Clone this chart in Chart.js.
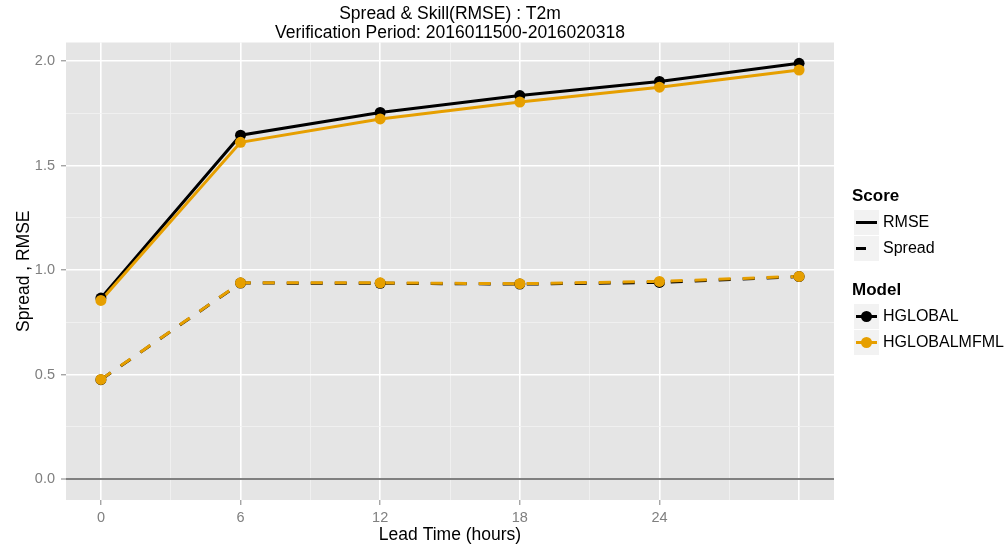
<!DOCTYPE html>
<html lang="en">
  <head>
    <meta charset="UTF-8" />
    <title>Spread & Skill(RMSE) : T2m</title>
    <script src="https://cdn.jsdelivr.net/npm/chart.js@4/dist/chart.umd.min.js"></script>
    <style>
      body { margin: 0; background: #fff; font-family: 'Liberation Sans', Arial, sans-serif; }
      #wrap { position: relative; width: 1006px; height: 549px; }
      .lg { position: absolute; white-space: nowrap; line-height: 20px; color: #000; }
      .lg.title { font-weight: bold; font-size: 17px; }
      .lg.item { font-size: 16px; }
      .key { position: absolute; width: 25px; height: 25px; background: #f2f2f2; }
    </style>
  </head>
  <body>
    <div id="wrap">
      <canvas id="myChart" width="1006" height="549"></canvas>
      <div id="legend"></div>
    </div>

    <script>
      // values
      const leadTimes = [0, 6, 12, 18, 24, 30];
      const rmseHGLOBAL = [0.866, 1.645, 1.754, 1.835, 1.902, 1.989];
      const rmseMFML = [0.855, 1.611, 1.723, 1.804, 1.875, 1.957];
      const spreadHGLOBAL = [0.476, 0.938, 0.937, 0.933, 0.941, 0.969];
      const spreadMFML = [0.477, 0.939, 0.939, 0.935, 0.946, 0.970];

      const xTicks = [0, 3, 6, 9, 12, 15, 18, 21, 24, 27, 30];
      const xLabels = ['0', '6', '12', '18', '24'];
      const yTicks = [0, 0.25, 0.5, 0.75, 1.0, 1.25, 1.5, 1.75, 2.0];

      const BLACK = '#000000';
      const ORANGE = '#E69F00';

      const toPoints = ys => leadTimes.map((x, i) => ({ x: x, y: ys[i] }));

      const panelBg = {
        id: 'panelBg',
        beforeDraw(chart) {
          const { ctx, chartArea: a } = chart;
          ctx.save();
          ctx.fillStyle = '#E5E5E5';
          ctx.fillRect(a.left, a.top, a.right - a.left, a.bottom - a.top);
          ctx.restore();
        }
      };

      function lineSet(data, color, dashed) {
        return {
          data: toPoints(data),
          showLine: true,
          borderColor: color,
          borderWidth: 3,
          borderDash: dashed ? [12, 12] : [],
          borderDashOffset: 0,
          pointRadius: 0,
          fill: false,
          tension: 0
        };
      }
      function pointSet(data, color) {
        return {
          data: toPoints(data),
          showLine: false,
          pointRadius: 5.5,
          pointBackgroundColor: color,
          pointBorderWidth: 0,
          borderColor: color
        };
      }

      const isMajorX = v => v % 6 === 0;
      const isMajorY = v => Math.abs(v * 2 - Math.round(v * 2)) < 1e-9;

      const ctx = document.getElementById('myChart').getContext('2d');
      const myChart = new Chart(ctx, {
        type: 'scatter',
        data: {
          datasets: [
            // first dataset is drawn on top: points over lines, orange over black
            pointSet(rmseMFML, ORANGE),
            pointSet(spreadMFML, ORANGE),
            pointSet(rmseHGLOBAL, BLACK),
            pointSet(spreadHGLOBAL, BLACK),
            lineSet(rmseMFML, ORANGE, false),
            lineSet(spreadMFML, ORANGE, true),
            lineSet(rmseHGLOBAL, BLACK, false),
            lineSet(spreadHGLOBAL, BLACK, true)
          ]
        },
        options: {
          responsive: false,
          animation: false,
          layout: { padding: { left: 0, right: 172, top: 0, bottom: 0 } },
          plugins: {
            legend: { display: false },
            tooltip: { enabled: false },
            title: {
              display: true,
              fullSize: false,
              text: ['Spread & Skill(RMSE) : T2m', 'Verification Period: 2016011500-2016020318'],
              color: '#000',
              font: { family: "'Liberation Sans', Arial, sans-serif", size: 17.5, weight: 'normal', lineHeight: 1.086 },
              padding: { top: 4.5, bottom: 0 }
            }
          },
          scales: {
            x: {
              type: 'linear',
              min: -1.5,
              max: 31.5,
              afterFit: s => { s.height = 49; },
              afterBuildTicks: s => { s.ticks = xTicks.map(v => ({ value: v })); },
              ticks: {
                autoSkip: false,
                maxRotation: 0,
                padding: 4,
                color: '#7F7F7F',
                font: { family: "'Liberation Sans', Arial, sans-serif", size: 14.5 },
                callback: v => (xLabels.includes(String(v)) ? String(v) : '')
              },
              grid: {
                color: c => (isMajorX(c.tick.value) ? '#FFFFFF' : '#F2F2F2'),
                lineWidth: c => (isMajorX(c.tick.value) ? 1.6 : 0.8),
                tickLength: 5,
                tickColor: c => (xLabels.includes(String(c.tick.value)) ? '#7F7F7F' : 'rgba(0,0,0,0)'),
                tickWidth: 1
              },
              border: { display: false },
              title: {
                display: true,
                text: 'Lead Time (hours)',
                color: '#000',
                font: { family: "'Liberation Sans', Arial, sans-serif", size: 17.5 },
                padding: { top: 0, bottom: 3 }
              }
            },
            y: {
              type: 'linear',
              min: -0.0995,
              max: 2.0885,
              afterFit: s => { s.width = 66; },
              afterBuildTicks: s => { s.ticks = yTicks.map(v => ({ value: v })); },
              ticks: {
                autoSkip: false,
                padding: 6,
                color: '#7F7F7F',
                font: { family: "'Liberation Sans', Arial, sans-serif", size: 14.5 },
                callback: v => (isMajorY(v) ? v.toFixed(1) : '')
              },
              grid: {
                color: c => (c.tick.value === 0 ? '#808080' : isMajorY(c.tick.value) ? '#FFFFFF' : '#F2F2F2'),
                lineWidth: c => (c.tick.value === 0 ? 2 : isMajorY(c.tick.value) ? 1.6 : 0.8),
                tickLength: 5,
                tickColor: c => (isMajorY(c.tick.value) ? '#7F7F7F' : 'rgba(0,0,0,0)'),
                tickWidth: 1
              },
              border: { display: false },
              title: {
                display: true,
                text: 'Spread , RMSE',
                color: '#000',
                font: { family: "'Liberation Sans', Arial, sans-serif", size: 17.5 },
                padding: { top: 14, bottom: 0 }
              }
            }
          }
        },
        plugins: [panelBg]
      });

      // ggplot style legend on the right
      const legendGroups = [
        { title: 'Score', top: 186, items: [
          { label: 'RMSE', key: 'solid' },
          { label: 'Spread', key: 'dash' }
        ] },
        { title: 'Model', top: 280, items: [
          { label: 'HGLOBAL', key: 'dot', color: BLACK },
          { label: 'HGLOBALMFML', key: 'dot', color: ORANGE }
        ] }
      ];

      function keySvg(item) {
        if (item.key === 'solid') {
          return '<svg width="25" height="25"><line x1="2" y1="12.5" x2="23" y2="12.5" stroke="#000" stroke-width="3"/></svg>';
        }
        if (item.key === 'dash') {
          return '<svg width="25" height="25"><line x1="2" y1="12.5" x2="12" y2="12.5" stroke="#000" stroke-width="3"/></svg>';
        }
        return '<svg width="25" height="25"><line x1="2" y1="12.5" x2="23" y2="12.5" stroke="' + item.color +
          '" stroke-width="3"/><circle cx="12.5" cy="12.5" r="5.5" fill="' + item.color + '"/></svg>';
      }

      const legend = document.getElementById('legend');
      let html = '';
      legendGroups.forEach(g => {
        html += '<div class="lg title" style="left:852px;top:' + g.top + 'px">' + g.title + '</div>';
        g.items.forEach((it, i) => {
          const cy = g.top + 10 + 26 * (i + 1);
          html += '<div class="key" style="left:854px;top:' + (cy - 12.5) + 'px">' + keySvg(it) + '</div>';
          html += '<div class="lg item" style="left:883px;top:' + (cy - 10) + 'px">' + it.label + '</div>';
        });
      });
      legend.innerHTML = html;
    </script>
  </body>
</html>
